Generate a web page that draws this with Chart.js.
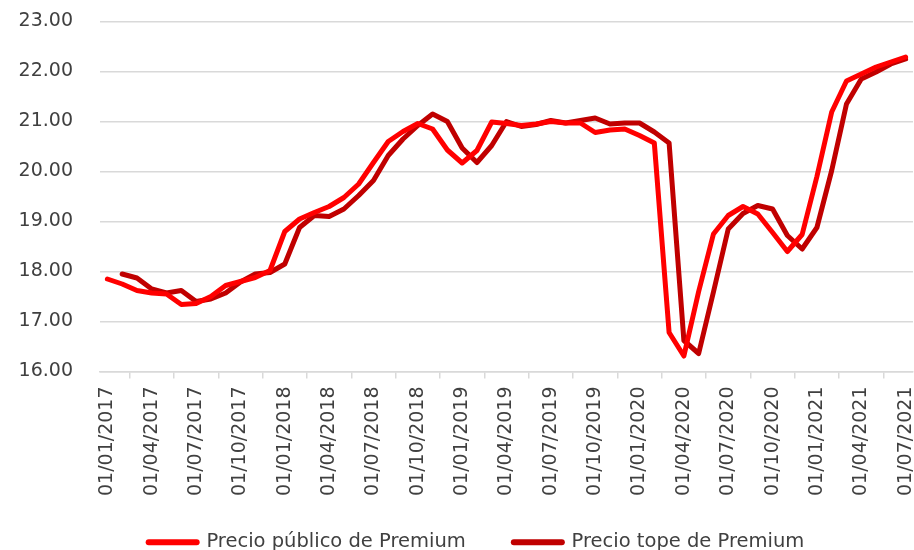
<!DOCTYPE html>
<html>
<head>
<meta charset="utf-8">
<script src="https://cdn.jsdelivr.net/npm/chart.js@4.4.0/dist/chart.umd.min.js"></script>
<style>
  html, body { margin: 0; padding: 0; background: #ffffff; overflow: hidden; }
  #wrap { position: relative; width: 914px; height: 550px; }
</style>
</head>
<body>
<div id="wrap"><canvas id="c"></canvas></div>
<script>
const categories = [
  "01/01/2017","01/02/2017","01/03/2017","01/04/2017","01/05/2017","01/06/2017",
  "01/07/2017","01/08/2017","01/09/2017","01/10/2017","01/11/2017","01/12/2017",
  "01/01/2018","01/02/2018","01/03/2018","01/04/2018","01/05/2018","01/06/2018",
  "01/07/2018","01/08/2018","01/09/2018","01/10/2018","01/11/2018","01/12/2018",
  "01/01/2019","01/02/2019","01/03/2019","01/04/2019","01/05/2019","01/06/2019",
  "01/07/2019","01/08/2019","01/09/2019","01/10/2019","01/11/2019","01/12/2019",
  "01/01/2020","01/02/2020","01/03/2020","01/04/2020","01/05/2020","01/06/2020",
  "01/07/2020","01/08/2020","01/09/2020","01/10/2020","01/11/2020","01/12/2020",
  "01/01/2021","01/02/2021","01/03/2021","01/04/2021","01/05/2021","01/06/2021",
  "01/07/2021"
];

const tickLabels = [
  "01/01/2017","01/04/2017","01/07/2017","01/10/2017",
  "01/01/2018","01/04/2018","01/07/2018","01/10/2018",
  "01/01/2019","01/04/2019","01/07/2019","01/10/2019",
  "01/01/2020","01/04/2020","01/07/2020","01/10/2020",
  "01/01/2021","01/04/2021","01/07/2021"
];

const precioPublico = [
  17.85, 17.75, 17.62, 17.57, 17.55, 17.34, 17.36, 17.50, 17.72, 17.80, 17.88, 18.02,
  18.80, 19.05, 19.18, 19.30, 19.48, 19.75, 20.18, 20.60, 20.80, 20.96, 20.85, 20.43,
  20.17, 20.42, 20.99, 20.96, 20.92, 20.95, 21.00, 20.97, 20.97, 20.78, 20.83, 20.85,
  20.72, 20.57, 16.78, 16.31, 17.60, 18.75, 19.12, 19.30, 19.15, 18.78, 18.40, 18.74,
  19.90, 21.19, 21.81, 21.95, 22.09, 22.19, 22.29
];

const precioTope = [
  null, 17.95, 17.87, 17.65, 17.57, 17.62, 17.40, 17.45, 17.57, 17.79, 17.95, 17.98,
  18.15, 18.88, 19.12, 19.10, 19.25, 19.52, 19.82, 20.32, 20.65, 20.92, 21.15, 21.00,
  20.47, 20.18, 20.52, 21.00, 20.90, 20.94, 21.02, 20.97, 21.02, 21.07, 20.95, 20.97,
  20.97, 20.79, 20.57, 16.62, 16.36, 17.59, 18.85, 19.16, 19.32, 19.25, 18.72, 18.45,
  18.88, 20.02, 21.35, 21.85, 21.99, 22.15, 22.25
];

const yTicks = [16, 17, 18, 19, 20, 21, 22, 23];

const FONT = "'DejaVu Sans', sans-serif";
const TEXT = '#404040';
const GRID = '#d9d9d9';

const legendShift = {
  id: 'legendShift',
  afterLayout: function(chart) {
    if (chart.legend) {
      chart.legend.left += 11;
      chart.legend.right += 11;
    }
  }
};

new Chart(document.getElementById('c'), {
  type: 'line',
  data: {
    labels: categories,
    datasets: [
      {
        label: 'Precio público de Premium',
        data: precioPublico,
        borderColor: '#ff0000',
        backgroundColor: '#ff0000',
        borderWidth: 5,
        pointRadius: 0,
        tension: 0,
        borderJoinStyle: 'round',
        borderCapStyle: 'round',
        spanGaps: false
      },
      {
        label: 'Precio tope de Premium',
        data: precioTope,
        borderColor: '#c00000',
        backgroundColor: '#c00000',
        borderWidth: 5,
        pointRadius: 0,
        tension: 0,
        borderJoinStyle: 'round',
        borderCapStyle: 'round',
        spanGaps: false
      }
    ]
  },
  plugins: [legendShift],
  options: {
    responsive: true,
    maintainAspectRatio: false,
    animation: false,
    layout: { padding: { left: 18, right: 1, top: 21.5, bottom: -12 } },
    plugins: {
      tooltip: { enabled: false },
      legend: {
        position: 'bottom',
        labels: {
          font: { family: FONT, size: 19.5 },
          color: TEXT,
          usePointStyle: true,
          pointStyleWidth: 48,
          padding: 48,
          generateLabels: function(chart) {
            const items = Chart.defaults.plugins.legend.labels.generateLabels(chart);
            items.forEach(function(it) {
              it.pointStyle = 'line';
              it.lineWidth = 6;
              it.lineCap = 'round';
            });
            return items;
          }
        }
      }
    },
    scales: {
      x: {
        type: 'category',
        offset: true,
        afterFit: function(scale) {
          scale.height = 113;
          scale.paddingLeft = 0;
          scale.paddingRight = 0;
          scale._computeLabelArea = function() { return undefined; };
        },
        grid: {
          offset: true,
          drawOnChartArea: false,
          drawTicks: true,
          tickLength: 7,
          color: GRID,
          lineWidth: 1.5
        },
        border: { display: true, color: GRID, width: 1.5 },
        ticks: {
          autoSkip: false,
          minRotation: 90,
          maxRotation: 90,
          padding: 8,
          color: TEXT,
          font: { family: FONT, size: 19 },
          callback: function(value, index) {
            const lab = categories[index];
            return tickLabels.indexOf(lab) >= 0 ? lab : null;
          }
        }
      },
      y: {
        min: yTicks[0],
        max: yTicks[yTicks.length - 1],
        afterBuildTicks: function(scale) {
          scale.ticks = yTicks.map(function(v) { return { value: v }; });
        },
        afterFit: function(scale) {
          scale.width = 82;
          scale.paddingTop = 0;
          scale.paddingBottom = 0;
        },
        grid: {
          color: GRID,
          lineWidth: 1.5,
          drawTicks: false
        },
        border: { display: false },
        ticks: {
          padding: 27,
          color: TEXT,
          font: { family: FONT, size: 19 },
          callback: function(v) { return Number(v).toFixed(2); }
        }
      }
    }
  }
});
</script>
</body>
</html>
